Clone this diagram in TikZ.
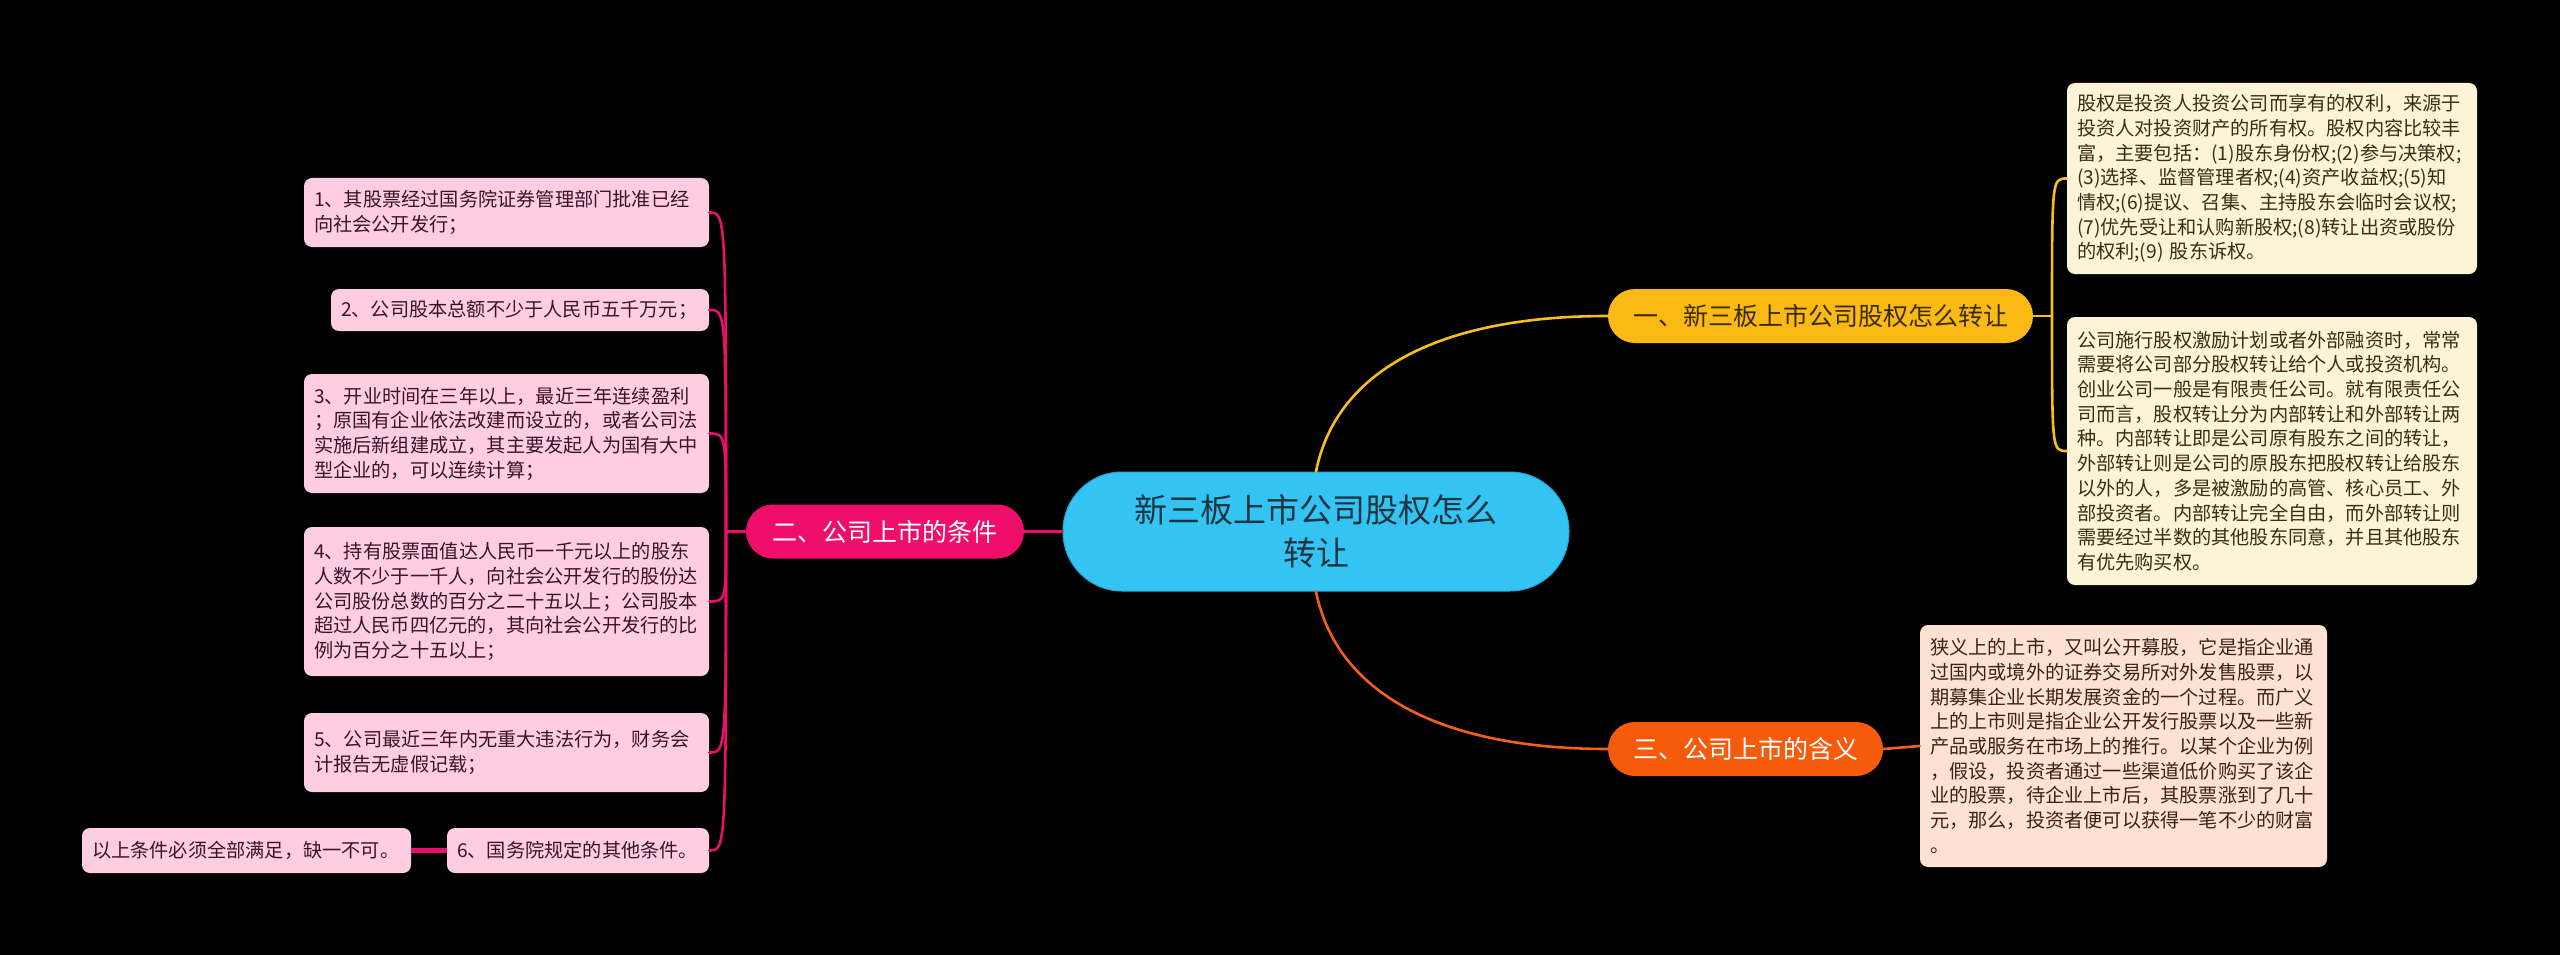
\documentclass[tikz,border=0pt]{standalone}
\usepackage{fontspec}
\setmainfont{Noto Sans CJK SC}
\definecolor{bg}{HTML}{000000}
\definecolor{cenC}{HTML}{33C4F3}
\definecolor{cenB}{HTML}{22A8D8}
\definecolor{txtC}{HTML}{1E3440}
\definecolor{brY}{HTML}{FBB913}
\definecolor{brP}{HTML}{EF0F6A}
\definecolor{brO}{HTML}{F65A0B}
\definecolor{txtBY}{HTML}{3A2C08}
\definecolor{lnY}{HTML}{F7BE1E}
\definecolor{lnP}{HTML}{E8106A}
\definecolor{lnO}{HTML}{F2601A}
\definecolor{leafY}{HTML}{FDF3D6}
\definecolor{leafO}{HTML}{FDE2D2}
\definecolor{leafP}{HTML}{FFCDE2}
\definecolor{txtY}{HTML}{3A2E14}
\definecolor{txtO}{HTML}{3A2418}
\definecolor{txtP}{HTML}{3A1428}
\tikzset{
  leafbox/.style={rounded corners=8pt, inner xsep=10pt, inner ysep=0pt, align=left,
    font=\fontsize{19.2pt}{24.7pt}\selectfont},
  yleaf/.style={leafbox, fill=leafY, text=txtY},
  oleaf/.style={leafbox, fill=leafO, text=txtO},
  pleaf/.style={leafbox, fill=leafP, text=txtP},
  branch/.style={rounded corners=27pt, minimum height=54pt, inner sep=0pt,
    font=\fontsize{25pt}{30pt}\selectfont},
  conn/.style={line width=2.6pt, line cap=round},
}
\begin{document}
\begin{tikzpicture}[x=1pt,y=-1pt]
\useasboundingbox (0,0) rectangle (2560,955);
\fill[bg] (0,0) rectangle (2560,955);

% central node
\node[fill=cenC, draw=cenB, line width=1pt, text=txtC, rounded corners=59pt,
  minimum width=506pt, minimum height=119pt, align=center, inner sep=0pt,
  font=\fontsize{33pt}{43pt}\selectfont] (c) at (1316,531.5) {新三板上市公司股权怎么\\转让};

% branches
\node[branch, fill=brY, text=txtBY, minimum width=425pt] (b1) at (1820.5,316) {一、新三板上市公司股权怎么转让};
\node[branch, fill=brP, text=white, minimum width=278pt] (b2) at (885,531.5) {二、公司上市的条件};
\node[branch, fill=brO, text=white, minimum width=275pt] (b3) at (1745.5,749) {三、公司上市的含义};

% right leaves (yellow)
\node[yleaf, text width=390pt, minimum height=191pt] (la) at (2272,178.5) {股权是投资人投资公司而享有的权利，来源于\\投资人对投资财产的所有权。股权内容比较丰\\富，主要包括：(1)股东身份权;(2)参与决策权;\\(3)选择、监督管理者权;(4)资产收益权;(5)知\\情权;(6)提议、召集、主持股东会临时会议权;\\(7)优先受让和认购新股权;(8)转让出资或股份\\的权利;(9) 股东诉权。};
\node[yleaf, text width=390pt, minimum height=268pt] (lb) at (2272,451) {公司施行股权激励计划或者外部融资时，常常\\需要将公司部分股权转让给个人或投资机构。\\创业公司一般是有限责任公司。就有限责任公\\司而言，股权转让分为内部转让和外部转让两\\种。内部转让即是公司原有股东之间的转让，\\外部转让则是公司的原股东把股权转让给股东\\以外的人，多是被激励的高管、核心员工、外\\部投资者。内部转让完全自由，而外部转让则\\需要经过半数的其他股东同意，并且其他股东\\有优先购买权。};

% orange leaf
\node[oleaf, text width=387pt, minimum height=242pt] (lc) at (2123.5,746) {狭义上的上市，又叫公开募股，它是指企业通\\过国内或境外的证券交易所对外发售股票，以\\期募集企业长期发展资金的一个过程。而广义\\上的上市则是指企业公开发行股票以及一些新\\产品或服务在市场上的推行。以某个企业为例\\，假设，投资者通过一些渠道低价购买了该企\\业的股票，待企业上市后，其股票涨到了几十\\元，那么，投资者便可以获得一笔不少的财富\\。};

% pink leaves
\node[pleaf, text width=385pt, minimum height=69pt] (p1) at (506.5,212.5) {1、其股票经过国务院证券管理部门批准已经\\向社会公开发行；};
\node[pleaf, text width=358pt, minimum height=42pt] (p2) at (520,310) {2、公司股本总额不少于人民币五千万元；};
\node[pleaf, text width=385pt, minimum height=119pt] (p3) at (506.5,433.5) {3、开业时间在三年以上，最近三年连续盈利\\；原国有企业依法改建而设立的，或者公司法\\实施后新组建成立，其主要发起人为国有大中\\型企业的，可以连续计算；};
\node[pleaf, text width=385pt, minimum height=149pt] (p4) at (506.5,601.5) {4、持有股票面值达人民币一千元以上的股东\\人数不少于一千人，向社会公开发行的股份达\\公司股份总数的百分之二十五以上；公司股本\\超过人民币四亿元的，其向社会公开发行的比\\例为百分之十五以上；};
\node[pleaf, text width=385pt, minimum height=79pt] (p5) at (506.5,752.5) {5、公司最近三年内无重大违法行为，财务会\\计报告无虚假记载；};
\node[pleaf, text width=242pt, minimum height=45pt] (p6) at (578,850.5) {6、国务院规定的其他条件。};
\node[pleaf, text width=309pt, minimum height=45pt] (p7) at (246.5,850.5) {以上条件必须全部满足，缺一不可。};

% connectors: central to branches
\draw[conn, lnY] (c.north) .. controls +(20,-100) and +(-170,0) .. (b1.west);
\draw[conn, lnO] (c.south) .. controls +(20,100) and +(-170,0) .. (b3.west);
\draw[conn, lnP] (c.west) -- (b2.east);

% yellow bracket
\coordinate (yj) at (2052,316);
\draw[conn, lnY] (b1.east) -- (yj);
\draw[conn, lnY] (yj) .. controls (yj |- la.west) and (yj |- la.west) .. (la.west);
\draw[conn, lnY] (yj) .. controls (yj |- lb.west) and (yj |- lb.west) .. (lb.west);

% orange
\draw[conn, lnO] (b3.east) -- (lc.west);

% pink bracket
\coordinate (pj) at (726,531.5);
\draw[conn, lnP] (b2.west) -- (pj);
\foreach \n in {p1,p2,p3,p4,p5,p6}{
  \draw[conn, lnP] (pj) .. controls (pj |- \n.east) and (pj |- \n.east) .. (\n.east);
}
\draw[lnP, line width=4.5pt] (p6.west) -- (p7.east);
\end{tikzpicture}
\end{document}
